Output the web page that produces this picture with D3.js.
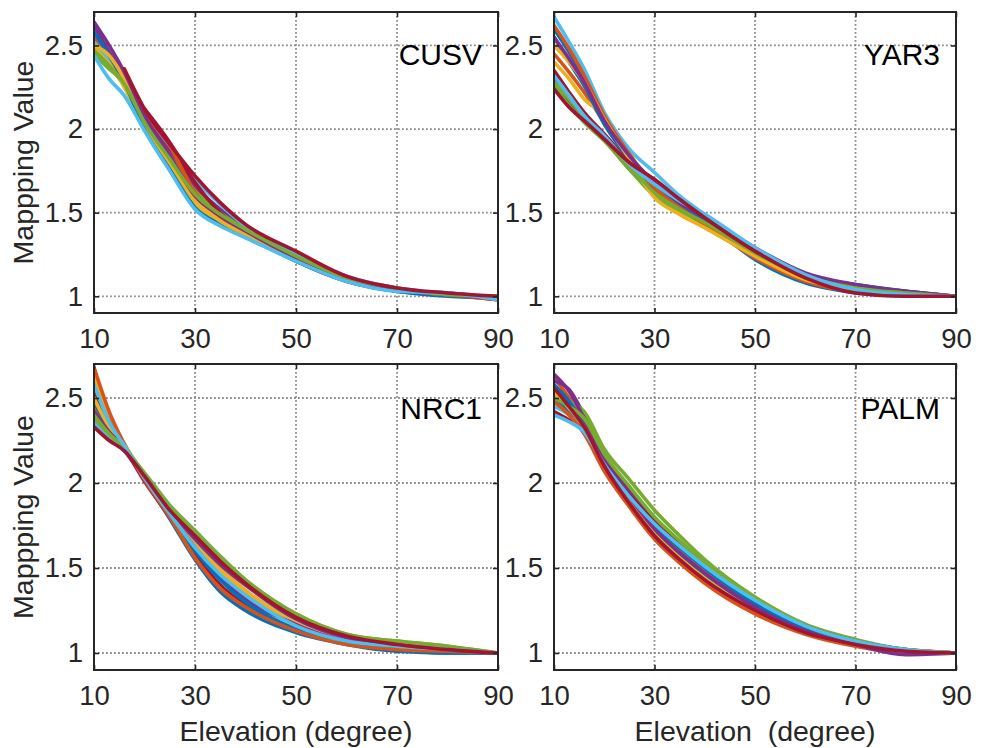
<!DOCTYPE html>
<html>
<head>
<meta charset="utf-8">
<script src="https://cdn.jsdelivr.net/npm/d3@7"></script>
<style>
  body { margin: 0; background: #fff; }
  svg { font-family: "Liberation Sans", Arial, sans-serif; }
</style>
</head>
<body>
<div id="container"></div>
<script>
/* CONSTANTS AND GLOBALS */
const width = 986;
const height = 748;
const cols = [[94, 498], [554, 956]];
const rows = [[12, 313], [364, 670]];
const lineColors = ["#0072BD", "#D95319", "#EDB120", "#7E2F8E", "#77AC30", "#4DBEEE", "#A2142F"];

/* DATA */
const elevation = [10, 13, 16, 20, 25, 30, 35, 40, 50, 60, 70, 80, 90];
const xTicks = [10, 30, 50, 70, 90];
const yTicks = [1, 1.5, 2, 2.5];
const stations = ["CUSV", "YAR3", "NRC1", "PALM"];
const yLabel = "Mappping Value";
const xLabels = ["Elevation (degree)", "Elevation  (degree)"];

const cusv = [
  [2.50, 2.38, 2.26, 2.05, 1.82, 1.60, 1.48, 1.39, 1.23, 1.10, 1.04, 1.01, 0.99],
  [2.55, 2.42, 2.30, 2.08, 1.86, 1.64, 1.50, 1.40, 1.24, 1.11, 1.04, 1.01, 0.99],
  [2.48, 2.40, 2.25, 2.02, 1.78, 1.55, 1.44, 1.36, 1.22, 1.10, 1.04, 1.01, 1.00],
  [2.62, 2.46, 2.32, 2.10, 1.88, 1.66, 1.52, 1.41, 1.24, 1.10, 1.04, 1.01, 0.99],
  [2.45, 2.36, 2.28, 2.06, 1.84, 1.63, 1.50, 1.40, 1.25, 1.11, 1.05, 1.01, 0.99],
  [2.52, 2.42, 2.33, 2.11, 1.90, 1.70, 1.55, 1.42, 1.26, 1.12, 1.05, 1.02, 1.00],
  [null, null, null, 2.12, 1.92, 1.68, 1.50, 1.38, 1.21, 1.09, 1.03, 1.01, 0.98],
  [2.58, 2.44, 2.28, 2.00, 1.76, 1.53, 1.43, 1.36, 1.21, 1.09, 1.03, 1.00, 0.99],
  [null, null, 2.32, 2.10, 1.90, 1.62, 1.47, 1.37, 1.22, 1.10, 1.04, 1.01, 0.98],
  [2.50, 2.44, 2.30, 2.04, 1.80, 1.58, 1.45, 1.37, 1.22, 1.10, 1.04, 1.01, 1.00],
  [2.64, 2.50, 2.34, 2.08, 1.84, 1.60, 1.48, 1.39, 1.23, 1.10, 1.04, 1.01, 0.99],
  [2.47, 2.38, 2.27, 2.04, 1.82, 1.61, 1.49, 1.40, 1.24, 1.11, 1.05, 1.01, 1.00],
  [2.44, 2.30, 2.20, 1.99, 1.75, 1.52, 1.42, 1.35, 1.21, 1.09, 1.03, 1.02, 0.98],
  [null, null, 2.36, 2.12, 1.91, 1.72, 1.56, 1.43, 1.27, 1.12, 1.05, 1.02, 1.00]
];

const yar3 = [
  [2.60, 2.46, 2.30, 2.06, 1.84, 1.68, 1.55, 1.45, 1.22, 1.08, 1.02, 1.00, 1.00],
  [2.45, 2.34, 2.22, 2.04, 1.83, 1.64, 1.52, 1.42, 1.24, 1.11, 1.05, 1.02, 1.00],
  [2.40, 2.30, 2.18, 2.08, 1.86, 1.62, 1.50, 1.41, 1.25, 1.12, 1.05, 1.02, 1.00],
  [2.30, 2.16, 2.06, 1.94, 1.76, 1.63, 1.54, 1.46, 1.28, 1.13, 1.06, 1.03, 1.00],
  [2.26, 2.14, 2.04, 1.93, 1.76, 1.60, 1.51, 1.44, 1.27, 1.13, 1.06, 1.02, 1.00],
  [2.67, 2.52, 2.36, 2.10, 1.88, 1.74, 1.60, 1.49, 1.29, 1.13, 1.06, 1.02, 1.00],
  [2.35, 2.22, 2.10, 1.97, 1.80, 1.66, 1.56, 1.48, 1.28, 1.12, 1.03, 1.01, 1.00],
  [2.55, 2.40, 2.26, 2.03, 1.82, 1.66, 1.54, 1.45, 1.26, 1.12, 1.07, 1.03, 1.00],
  [2.62, 2.48, 2.32, 2.08, 1.85, 1.65, 1.53, 1.43, 1.23, 1.09, 1.03, 1.02, 1.00],
  [2.50, 2.40, 2.28, 2.06, 1.82, 1.59, 1.49, 1.41, 1.24, 1.10, 1.04, 1.02, 1.00],
  [2.55, 2.42, 2.28, 2.05, 1.84, 1.68, 1.56, 1.47, 1.29, 1.14, 1.07, 1.03, 1.00],
  [2.28, 2.18, 2.07, 1.95, 1.78, 1.62, 1.52, 1.44, 1.26, 1.12, 1.05, 1.02, 1.00],
  [2.32, 2.20, 2.08, 1.96, 1.79, 1.67, 1.57, 1.49, 1.29, 1.13, 1.04, 1.01, 1.00],
  [2.24, 2.13, 2.05, 1.94, 1.80, 1.70, 1.58, 1.47, 1.27, 1.11, 1.02, 1.00, 1.00]
];

const nrc1 = [
  [2.55, 2.34, 2.21, 2.02, 1.79, 1.55, 1.36, 1.25, 1.12, 1.05, 1.01, 1.00, 1.00],
  [2.45, 2.30, 2.20, 2.05, 1.85, 1.70, 1.55, 1.42, 1.22, 1.10, 1.05, 1.02, 1.00],
  [2.62, 2.38, 2.23, 2.04, 1.82, 1.64, 1.48, 1.36, 1.18, 1.08, 1.04, 1.02, 1.00],
  [2.40, 2.28, 2.19, 2.03, 1.83, 1.62, 1.45, 1.32, 1.17, 1.08, 1.03, 1.01, 1.00],
  [2.38, 2.27, 2.20, 2.06, 1.87, 1.72, 1.57, 1.43, 1.23, 1.11, 1.07, 1.04, 1.00],
  [2.35, 2.26, 2.19, 2.05, 1.86, 1.71, 1.56, 1.42, 1.21, 1.09, 1.04, 1.01, 1.00],
  [2.55, 2.36, 2.21, 2.01, 1.80, 1.58, 1.40, 1.28, 1.14, 1.06, 1.02, 1.01, 1.00],
  [2.48, 2.32, 2.21, 2.03, 1.81, 1.60, 1.43, 1.30, 1.14, 1.06, 1.02, 1.00, 1.00],
  [2.68, 2.42, 2.23, 2.02, 1.80, 1.56, 1.38, 1.27, 1.13, 1.05, 1.02, 1.01, 1.00],
  [2.50, 2.33, 2.22, 2.04, 1.84, 1.66, 1.50, 1.37, 1.19, 1.09, 1.05, 1.02, 1.00],
  [2.42, 2.30, 2.21, 2.04, 1.84, 1.67, 1.52, 1.40, 1.20, 1.09, 1.05, 1.02, 1.00],
  [2.40, 2.29, 2.21, 2.05, 1.86, 1.71, 1.56, 1.43, 1.23, 1.11, 1.07, 1.04, 1.00],
  [2.58, 2.36, 2.22, 2.03, 1.82, 1.62, 1.46, 1.34, 1.16, 1.07, 1.04, 1.02, 1.00],
  [2.33, 2.25, 2.19, 2.04, 1.84, 1.69, 1.54, 1.41, 1.21, 1.10, 1.05, 1.02, 1.00]
];

const palm = [
  [2.50, 2.42, 2.32, 2.10, 1.90, 1.72, 1.58, 1.46, 1.26, 1.13, 1.05, 1.01, 1.00],
  [2.62, 2.50, 2.36, 2.12, 1.92, 1.74, 1.60, 1.48, 1.28, 1.14, 1.06, 1.02, 1.00],
  [2.55, 2.46, 2.35, 2.14, 1.94, 1.76, 1.62, 1.50, 1.30, 1.15, 1.06, 1.02, 1.00],
  [2.60, 2.55, 2.40, 2.16, 1.96, 1.78, 1.63, 1.51, 1.30, 1.15, 1.06, 1.00, 1.00],
  [2.52, 2.48, 2.42, 2.20, 2.02, 1.84, 1.69, 1.55, 1.33, 1.17, 1.08, 1.02, 1.00],
  [2.45, 2.40, 2.30, 2.08, 1.87, 1.68, 1.54, 1.42, 1.24, 1.12, 1.05, 1.01, 1.00],
  [2.42, 2.37, 2.31, 2.12, 1.93, 1.77, 1.64, 1.52, 1.31, 1.16, 1.07, 1.02, 1.00],
  [2.58, 2.48, 2.34, 2.11, 1.91, 1.75, 1.62, 1.50, 1.29, 1.14, 1.06, 1.01, 1.00],
  [2.48, 2.40, 2.29, 2.07, 1.86, 1.67, 1.53, 1.41, 1.23, 1.11, 1.04, 1.00, 1.00],
  [2.53, 2.44, 2.33, 2.10, 1.89, 1.70, 1.56, 1.44, 1.25, 1.12, 1.05, 1.01, 1.00],
  [2.64, 2.54, 2.38, 2.13, 1.92, 1.73, 1.59, 1.47, 1.27, 1.13, 1.05, 0.99, 1.00],
  [2.50, 2.45, 2.38, 2.17, 1.98, 1.80, 1.66, 1.53, 1.32, 1.16, 1.07, 1.02, 1.00],
  [2.40, 2.36, 2.30, 2.11, 1.92, 1.76, 1.63, 1.51, 1.31, 1.16, 1.07, 1.02, 1.00],
  [2.56, 2.45, 2.33, 2.10, 1.88, 1.69, 1.55, 1.43, 1.25, 1.12, 1.05, 1.01, 1.00]
];

const seriesByStation = [cusv, yar3, nrc1, palm];

/* DRAW */
const svg = d3.select("#container")
  .append("svg")
  .attr("width", width)
  .attr("height", height);

stations.forEach((name, i) => {
  const col = cols[i % 2];
  const row = rows[Math.floor(i / 2)];

  const xScale = d3.scaleLinear().domain([10, 90]).range(col);
  const yScale = d3.scaleLinear().domain([0.9, 2.7]).range([row[1], row[0]]);

  const g = svg.append("g").attr("class", "panel");

  g.append("clipPath")
    .attr("id", "clip" + i)
    .append("rect")
    .attr("x", col[0]).attr("y", row[0])
    .attr("width", col[1] - col[0]).attr("height", row[1] - row[0]);

  // dotted grid
  g.selectAll("line.vgrid")
    .data(xTicks.slice(1, -1))
    .join("line")
    .attr("class", "vgrid")
    .attr("x1", d => xScale(d)).attr("x2", d => xScale(d))
    .attr("y1", row[0]).attr("y2", row[1]);

  g.selectAll("line.hgrid")
    .data(yTicks)
    .join("line")
    .attr("class", "hgrid")
    .attr("x1", col[0]).attr("x2", col[1])
    .attr("y1", d => yScale(d)).attr("y2", d => yScale(d));

  g.selectAll("line.vgrid, line.hgrid")
    .attr("stroke", "#8c8c8c")
    .attr("stroke-width", 1.8)
    .attr("stroke-dasharray", "1.8,2.2");

  // curves
  const line = d3.line()
    .defined(d => d[1] != null)
    .x(d => xScale(d[0]))
    .y(d => yScale(d[1]))
    .curve(d3.curveMonotoneX);

  g.append("g")
    .attr("clip-path", `url(#clip${i})`)
    .selectAll("path")
    .data(seriesByStation[i])
    .join("path")
    .attr("d", vals => line(vals.map((v, k) => [elevation[k], v])))
    .attr("fill", "none")
    .attr("stroke", (d, k) => lineColors[k % lineColors.length])
    .attr("stroke-width", 3.6)
    .attr("stroke-linejoin", "round")
    .attr("stroke-linecap", "round");

  // axes with inward ticks
  const bottom = g.append("g")
    .attr("transform", `translate(0,${row[1]})`)
    .call(d3.axisBottom(xScale).tickValues(xTicks).tickSize(-5).tickPadding(15.5).tickFormat(d => d));
  const top = g.append("g")
    .attr("transform", `translate(0,${row[0]})`)
    .call(d3.axisTop(xScale).tickValues(xTicks).tickSize(-5).tickFormat(""));
  const left = g.append("g")
    .attr("transform", `translate(${col[0]},0)`)
    .call(d3.axisLeft(yScale).tickValues(yTicks).tickSize(-5).tickPadding(11).tickFormat(d => d));
  const right = g.append("g")
    .attr("transform", `translate(${col[1]},0)`)
    .call(d3.axisRight(yScale).tickValues(yTicks).tickSize(-5).tickFormat(""));

  [bottom, top, left, right].forEach(ax => {
    ax.select(".domain").remove();
    ax.selectAll(".tick line").attr("stroke", "#262626").attr("stroke-width", 1.6);
    ax.selectAll(".tick text")
      .attr("fill", "#262626")
      .style("font-size", "27.5px")
      .style("font-family", "'Liberation Sans', Arial, sans-serif");
  });

  // box
  g.append("rect")
    .attr("x", col[0]).attr("y", row[0])
    .attr("width", col[1] - col[0]).attr("height", row[1] - row[0])
    .attr("fill", "none")
    .attr("stroke", "#262626")
    .attr("stroke-width", 2);

  // station name
  g.append("text")
    .attr("x", col[1] - 16)
    .attr("y", row[0] + (i < 2 ? 53 : 55))
    .attr("text-anchor", "end")
    .attr("fill", "#000")
    .style("font-size", "30px")
    .text(name);

  // axis labels
  if (i % 2 === 0) {
    g.append("text")
      .attr("transform", `translate(33,${(row[0] + row[1]) / 2}) rotate(-90)`)
      .attr("text-anchor", "middle")
      .attr("fill", "#262626")
      .style("font-size", "28.5px")
      .text(yLabel);
  }
  if (i >= 2) {
    g.append("text")
      .attr("x", (col[0] + col[1]) / 2)
      .attr("y", 741)
      .attr("text-anchor", "middle")
      .attr("fill", "#262626")
      .style("font-size", "28.5px")
      .style("white-space", "pre")
      .text(xLabels[i - 2]);
  }
});
</script>
</body>
</html>
